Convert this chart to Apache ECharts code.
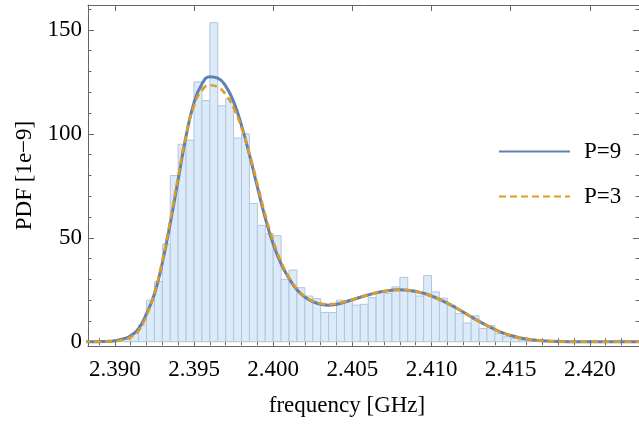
<!DOCTYPE html>
<html>
<head>
<meta charset="utf-8">
<title>PDF histogram</title>
<script src="https://cdn.jsdelivr.net/npm/echarts@6/dist/echarts.min.js"></script>
<style>
  html, body { margin: 0; padding: 0; background: #fff; }
  #chart { width: 639px; height: 429px; }
</style>
</head>
<body>
<div id="chart"></div>
<script>
// histogram bins (left edges, width 0.0005 GHz) and heights
const binWidth = 0.0005;
const binLeft = [
  2.3905, 2.3910, 2.3915, 2.3920, 2.3925, 2.3930, 2.3935, 2.3940, 2.3945, 2.3950,
  2.3955, 2.3960, 2.3965, 2.3970, 2.3975, 2.3980, 2.3985, 2.3990, 2.3995, 2.4000,
  2.4005, 2.4010, 2.4015, 2.4020, 2.4025, 2.4030, 2.4035, 2.4040, 2.4045, 2.4050,
  2.4055, 2.4060, 2.4065, 2.4070, 2.4075, 2.4080, 2.4085, 2.4090, 2.4095, 2.4100,
  2.4105, 2.4110, 2.4115, 2.4120, 2.4125, 2.4130, 2.4135, 2.4140, 2.4145, 2.4150,
  2.4155, 2.4160
];
const binHeight = [
  1.2, 4, 8, 20, 29, 47, 80, 95, 97, 125,
  116, 153.5, 113.5, 117, 98, 100, 66.5, 56, 52, 51,
  30, 34.5, 26, 22, 20.7, 14.1, 14, 20, 20, 17.6,
  18, 21.2, 24, 23.3, 26.4, 31, 24.9, 22, 31.8, 24,
  21, 17.6, 13.5, 9, 12.5, 6.4, 7.8, 4, 2.4, 1.6,
  0.8, 0.5
];

// fitted curves
const freq = [
  2.3880, 2.3885, 2.3890, 2.3895, 2.3900, 2.3905, 2.3910, 2.3915, 2.3920, 2.3925,
  2.3930, 2.3935, 2.3940, 2.3945, 2.3950, 2.3955, 2.3960, 2.3965, 2.3970, 2.3975,
  2.3980, 2.3985, 2.3990, 2.3995, 2.4000, 2.4005, 2.4010, 2.4015, 2.4020, 2.4025,
  2.4030, 2.4035, 2.4040, 2.4045, 2.4050, 2.4055, 2.4060, 2.4065, 2.4070, 2.4075,
  2.4080, 2.4085, 2.4090, 2.4095, 2.4100, 2.4105, 2.4110, 2.4115, 2.4120, 2.4125,
  2.4130, 2.4135, 2.4140, 2.4145, 2.4150, 2.4155, 2.4160, 2.4165, 2.4170, 2.4175,
  2.4180, 2.4190, 2.4200, 2.4210, 2.4235
];
const p9 = [
  0, 0, 0.05, 0.15, 0.5, 1.3, 2.9, 6.3, 13.5, 23,
  38, 57, 78, 99, 115, 124, 127.5, 126.8, 123, 115.5,
  104, 90, 74.5, 59.5, 47, 37.5, 30.5, 25, 21.5, 19.3,
  18, 17.6, 18, 19, 20.2, 21.4, 22.5, 23.5, 24.3, 24.8,
  25, 24.8, 24.2, 23.3, 22, 20.4, 18.6, 16.5, 14.3, 12,
  9.8, 7.8, 5.9, 4.3, 3, 2, 1.3, 0.8, 0.45, 0.25,
  0.12, 0.03, 0, 0, 0
];
const p3 = [
  0, 0, 0.02, 0.1, 0.3, 0.9, 2.2, 5.3, 12.5, 23.5,
  39, 58.5, 79.5, 99.5, 113.5, 121, 123.4, 122.5, 119, 112.5,
  103, 90.5, 76, 61, 48.5, 38.5, 31, 25.5, 21.8, 19.6,
  18.4, 18, 18.3, 19.2, 20.3, 21.5, 22.6, 23.6, 24.3, 24.8,
  25, 24.8, 24.2, 23.3, 22, 20.4, 18.6, 16.5, 14.3, 12,
  9.8, 7.8, 5.9, 4.3, 3, 2, 1.3, 0.8, 0.45, 0.25,
  0.12, 0.03, 0, 0, 0
];

// frame ticks
const xMajor = [2.390, 2.395, 2.400, 2.405, 2.410, 2.415, 2.420];
const xMinor = [
  2.389, 2.391, 2.392, 2.393, 2.394, 2.396, 2.397, 2.398, 2.399,
  2.401, 2.402, 2.403, 2.404, 2.406, 2.407, 2.408, 2.409,
  2.411, 2.412, 2.413, 2.414, 2.416, 2.417, 2.418, 2.419, 2.421, 2.422
];
const yMajor = [0, 50, 100, 150];
const yMinor = [10, 20, 30, 40, 60, 70, 80, 90, 110, 120, 130, 140, 160];

const xMin = 2.388304;
const xMax = 2.423103;
const yMin = -2.05;
const yMax = 162;

const font = "'Liberation Serif', 'DejaVu Serif', serif";
const frameColor = "#666";

const chart = echarts.init(document.getElementById("chart"));

const frameAxis = (extra) =>
  Object.assign(
    {
      type: "value",
      gridIndex: 0,
      splitLine: { show: false },
      axisLine: { show: true, onZero: false, lineStyle: { color: frameColor, width: 1 } },
      axisLabel: { show: false },
      axisTick: { show: true, inside: true, length: 6, lineStyle: { color: frameColor } },
    },
    extra
  );

const option = {
  animation: false,
  grid: { left: 88, right: -3, top: 5, bottom: 83, containLabel: false },
  legend: {
    orient: "vertical",
    left: 498,
    top: 140,
    itemWidth: 71,
    itemHeight: 26,
    itemGap: 22,
    padding: 0,
    data: ["P=9", "P=3"],
    itemStyle: { opacity: 0 },
    textStyle: { fontFamily: font, fontSize: 23, color: "#000", padding: [0, 0, 0, 9] },
  },
  xAxis: [
    frameAxis({
      position: "bottom",
      min: xMin,
      max: xMax,
      name: "frequency [GHz]",
      nameLocation: "middle",
      nameGap: 48,
      nameTextStyle: { fontFamily: font, fontSize: 23, color: "#000", padding: [0, 33, 0, 0] },
      axisTick: { show: true, inside: true, length: 6, customValues: xMajor, lineStyle: { color: frameColor } },
      axisLabel: {
        show: true,
        customValues: xMajor,
        margin: 12,
        fontFamily: font,
        fontSize: 23,
        color: "#000",
        formatter: (v) => v.toFixed(3),
      },
    }),
    frameAxis({
      position: "bottom",
      min: xMin,
      max: xMax,
      axisLine: { show: false },
      axisTick: { show: true, inside: true, length: 3.5, customValues: xMinor, lineStyle: { color: frameColor } },
    }),
    frameAxis({
      position: "top",
      min: xMin,
      max: xMax,
      axisTick: { show: true, inside: true, length: 6, customValues: xMajor, lineStyle: { color: frameColor } },
    }),
    frameAxis({
      position: "top",
      min: xMin,
      max: xMax,
      axisLine: { show: false },
      axisTick: { show: true, inside: true, length: 3.5, customValues: xMinor, lineStyle: { color: frameColor } },
    }),
  ],
  yAxis: [
    frameAxis({
      position: "left",
      min: yMin,
      max: yMax,
      name: "PDF [1e\u22129]",
      nameLocation: "middle",
      nameRotate: 90,
      nameGap: 52,
      nameTextStyle: { fontFamily: font, fontSize: 23, color: "#000" },
      axisTick: { show: true, inside: true, length: 6, customValues: yMajor, lineStyle: { color: frameColor } },
      axisLabel: {
        show: true,
        customValues: yMajor,
        margin: 6,
        fontFamily: font,
        fontSize: 23,
        color: "#000",
      },
    }),
    frameAxis({
      position: "left",
      min: yMin,
      max: yMax,
      axisLine: { show: false },
      axisTick: { show: true, inside: true, length: 3.5, customValues: yMinor, lineStyle: { color: frameColor } },
    }),
    frameAxis({
      position: "right",
      min: yMin,
      max: yMax,
      axisTick: { show: true, inside: true, length: 6, customValues: yMajor, lineStyle: { color: frameColor } },
    }),
    frameAxis({
      position: "right",
      min: yMin,
      max: yMax,
      axisLine: { show: false },
      axisTick: { show: true, inside: true, length: 3.5, customValues: yMinor, lineStyle: { color: frameColor } },
    }),
  ],
  series: [
    {
      type: "custom",
      xAxisIndex: 0,
      yAxisIndex: 0,
      clip: true,
      silent: true,
      data: binLeft.map((b, i) => [b, b + binWidth, binHeight[i]]),
      encode: { x: [0, 1], y: 2 },
      renderItem: (params, api) => {
        const p0 = api.coord([api.value(0), api.value(2)]);
        const p1 = api.coord([api.value(1), 0]);
        return {
          type: "rect",
          shape: { x: p0[0], y: p0[1], width: p1[0] - p0[0], height: p1[1] - p0[1] },
          style: { fill: "#dcebfa", stroke: "#b2c5d9", lineWidth: 1 },
        };
      },
    },
    {
      name: "P=9",
      type: "line",
      xAxisIndex: 0,
      yAxisIndex: 0,
      symbol: "none",
      smooth: 0.5,
      clip: true,
      data: freq.map((f, i) => [f, p9[i]]),
      lineStyle: { color: "#5e81b5", width: 3 },
      itemStyle: { color: "#5e81b5" },
    },
    {
      name: "P=3",
      type: "line",
      xAxisIndex: 0,
      yAxisIndex: 0,
      symbol: "none",
      smooth: 0.5,
      clip: true,
      data: freq.map((f, i) => [f, p3[i]]),
      lineStyle: { color: "#e19c24", width: 2.6, type: [7, 4] },
      itemStyle: { color: "#e19c24" },
    },
  ],
};

chart.setOption(option);
</script>
</body>
</html>
